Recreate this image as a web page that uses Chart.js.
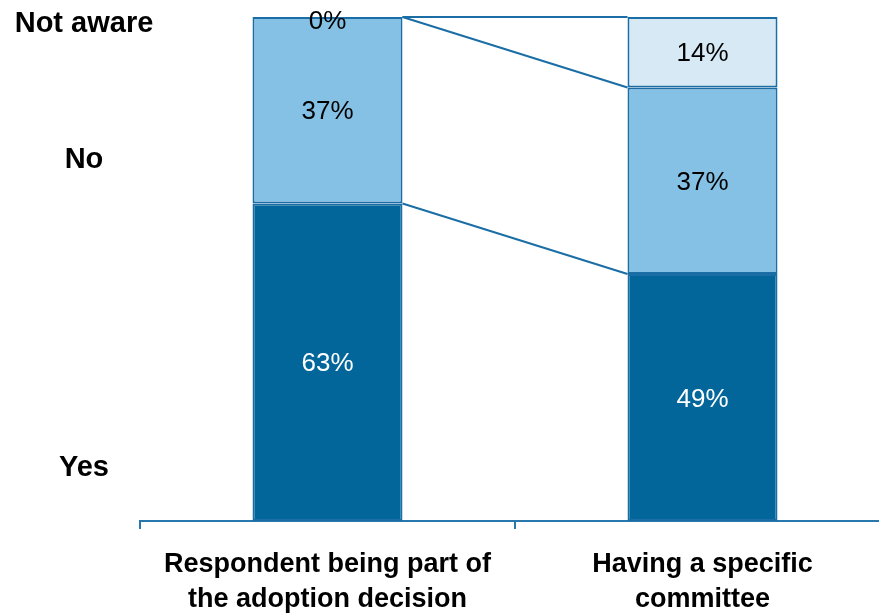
<!DOCTYPE html>
<html>
<head>
<meta charset="utf-8">
<script src="https://cdn.jsdelivr.net/npm/chart.js@4/dist/chart.umd.min.js"></script>
<style>
  html, body { margin: 0; padding: 0; background: #fff; overflow: hidden; }
  #wrap { width: 900px; height: 613px; }
</style>
</head>
<body>
<div id="wrap"><canvas id="chart" width="900" height="613"></canvas></div>
<script>
const categories = [
  ['Respondent being part of', 'the adoption decision'],
  ['Having a specific', 'committee']
];
const yesValues = [63, 49];
const noValues = [37, 37];
const notAwareValues = [0, 14];

const yTickValues = [11, 72, 99];
const yTickLabels = ['Yes', 'No', 'Not aware'];

const lineBlue = '#1a6ea5';
const fontFamily = '"Liberation Sans", Arial, sans-serif';

// connector lines between the tops of each segment
const seriesLines = {
  id: 'seriesLines',
  afterDatasetsDraw(chart) {
    const ctx = chart.ctx;
    ctx.save();
    ctx.strokeStyle = lineBlue;
    ctx.lineWidth = 2;
    chart.data.datasets.forEach((ds, i) => {
      const bars = chart.getDatasetMeta(i).data;
      for (let j = 0; j < bars.length - 1; j++) {
        const a = bars[j], b = bars[j + 1];
        ctx.beginPath();
        ctx.moveTo(a.x + a.width / 2, a.y);
        ctx.lineTo(b.x - b.width / 2, b.y);
        ctx.stroke();
      }
    });
    ctx.restore();
  }
};

const valueLabels = {
  id: 'valueLabels',
  afterDatasetsDraw(chart) {
    const ctx = chart.ctx;
    ctx.save();
    ctx.font = '26px ' + fontFamily;
    ctx.textAlign = 'center';
    ctx.textBaseline = 'middle';
    chart.data.datasets.forEach((ds, i) => {
      chart.getDatasetMeta(i).data.forEach((bar, j) => {
        ctx.fillStyle = i === 0 ? '#ffffff' : '#000000';
        const yMid = (bar.y + bar.base) / 2;
        ctx.fillText(ds.data[j] + '%', bar.x, yMid + (ds.data[j] === 0 ? 5 : 2));
      });
    });
    ctx.restore();
  }
};

// answer labels down the left side, placed on the y scale
const answerLabels = {
  id: 'answerLabels',
  afterDraw(chart) {
    const ctx = chart.ctx;
    const y = chart.scales.y;
    ctx.save();
    ctx.font = 'bold 29px ' + fontFamily;
    ctx.fillStyle = '#000';
    ctx.textAlign = 'center';
    ctx.textBaseline = 'middle';
    yTickValues.forEach((v, i) => {
      ctx.fillText(yTickLabels[i], 84, y.getPixelForValue(v) + 2);
    });
    ctx.restore();
  }
};

const makeSet = (label, data, color) => ({
  label: label,
  data: data,
  backgroundColor: color,
  borderColor: lineBlue,
  borderWidth: 2,
  borderSkipped: false,
  categoryPercentage: 1,
  barPercentage: 0.4
});

new Chart(document.getElementById('chart'), {
  type: 'bar',
  data: {
    labels: categories,
    datasets: [
      makeSet('Yes', yesValues, '#03669a'),
      makeSet('No', noValues, '#85c1e5'),
      makeSet('Not aware', notAwareValues, '#d6e9f5')
    ]
  },
  options: {
    responsive: false,
    animation: false,
    devicePixelRatio: 1,
    layout: { padding: { top: 17, right: 10, bottom: 0, left: 140 } },
    plugins: {
      legend: { display: false },
      tooltip: { enabled: false }
    },
    scales: {
      x: {
        stacked: true,
        afterFit: (scale) => { scale.height = 92; },
        border: { display: true, color: '#2878ae', width: 2 },
        grid: {
          display: true,
          offset: true,
          drawOnChartArea: false,
          drawTicks: true,
          tickLength: 8,
          color: '#2878ae',
          lineWidth: 2
        },
        ticks: {
          color: '#000',
          padding: 18,
          maxRotation: 0,
          font: { family: fontFamily, size: 27, weight: 'bold', lineHeight: 1.3 }
        }
      },
      y: {
        display: false,
        stacked: true,
        min: 0,
        max: 100
      }
    }
  },
  plugins: [seriesLines, valueLabels, answerLabels]
});
</script>
</body>
</html>
